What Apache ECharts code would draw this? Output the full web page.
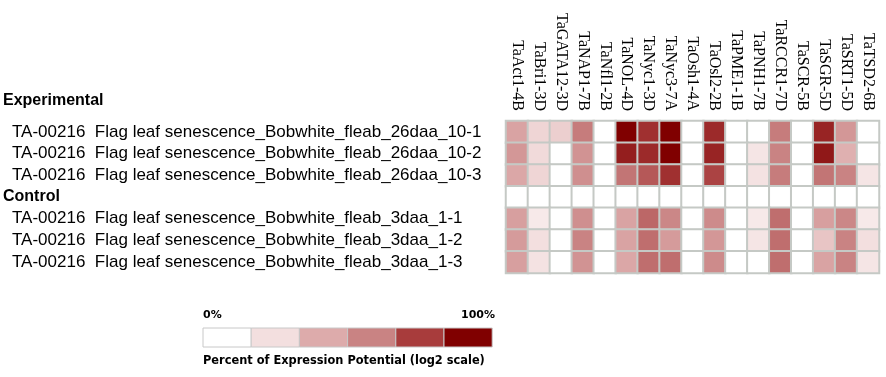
<!DOCTYPE html>
<html>
<head>
<meta charset="utf-8">
<script src="https://cdn.jsdelivr.net/npm/echarts@6/dist/echarts.min.js"></script>
<style>
  html, body { margin: 0; padding: 0; background: #fff; }
  #heat { width: 886px; height: 377px; }
</style>
</head>
<body>
<div id="heat"></div>
<script>
// gene expression heatmap, 0 = 0%, 5 = 100% (log2 scale)

var genes = ['TaAct1-4B', 'TaBri1-3D', 'TaGATA12-3D', 'TaNAP1-7B', 'TaNfl1-2B', 'TaNOL-4D', 'TaNyc1-3D',
  'TaNyc3-7A', 'TaOsh1-4A', 'TaOsl2-2B', 'TaPME1-1B', 'TaPNH1-7B', 'TaRCCR1-7D', 'TaSCR-5B',
  'TaSGR-5D', 'TaSRT1-5D', 'TaTSD2-6B']

var samples = [
  'TA-00216  Flag leaf senescence_Bobwhite_fleab_26daa_10-1',
  'TA-00216  Flag leaf senescence_Bobwhite_fleab_26daa_10-2',
  'TA-00216  Flag leaf senescence_Bobwhite_fleab_26daa_10-3',
  'Control',
  'TA-00216  Flag leaf senescence_Bobwhite_fleab_3daa_1-1',
  'TA-00216  Flag leaf senescence_Bobwhite_fleab_3daa_1-2',
  'TA-00216  Flag leaf senescence_Bobwhite_fleab_3daa_1-3'
]

var exp_10_1 = [2.2, 1.2, 1.3, 3.1, 0, 5.0, 4.2, 5.0, 0, 4.3, 0, 0, 3.1, 0, 4.4, 2.5, 0]
var exp_10_2 = [2.5, 1.1, 0, 2.6, 0, 4.5, 4.3, 5.0, 0, 4.4, 0, 0.8, 3.0, 0, 4.6, 1.9, 0]
var exp_10_3 = [2.1, 1.2, 0, 2.7, 0, 3.2, 3.6, 4.2, 0, 3.9, 0, 0.9, 3.1, 0, 3.2, 3.0, 0.8]
var control_hdr = [0, 0, 0, 0, 0, 0, 0, 0, 0, 0, 0, 0, 0, 0, 0, 0, 0]
var ctl_1_1 = [2.3, 0.7, 0, 2.7, 0, 2.2, 3.4, 2.9, 0, 2.8, 0, 0.7, 3.3, 0, 2.3, 2.9, 0.7]
var ctl_1_2 = [2.4, 1.0, 0, 3.0, 0, 2.2, 3.3, 2.4, 0, 2.5, 0, 0.8, 3.3, 0, 1.5, 3.0, 1.0]
var ctl_1_3 = [2.3, 0.9, 0, 2.6, 0, 2.1, 3.3, 3.3, 0, 2.8, 0, 0, 3.3, 0, 2.2, 3.0, 0.8]

var rows = [exp_10_1, exp_10_2, exp_10_3, control_hdr, ctl_1_1, ctl_1_2, ctl_1_3]
var palette = ['#ffffff', '#f3dfdf', '#ddabab', '#c98383', '#a83c3c', '#800000']

var heat_dt = []
for (var r = 0; r < rows.length; r++) {
  for (var c = 0; c < genes.length; c++) {
    heat_dt.push([c, r, rows[r][c]])
  }
}

// legend boxes under the chart
var legend_items = []
for (var k = 0; k < palette.length; k++) {
  legend_items.push({
    type: 'rect',
    shape: { x: 203 + k * 48.2, y: 328, width: 48.2, height: 19 },
    style: { fill: palette[k], stroke: '#c8c8c8', lineWidth: 1 }
  })
}

var heatchart = echarts.init(document.getElementById('heat'))

var option = {
  animation: false,
  grid: { left: 506, top: 121, width: 373, height: 152 },
  xAxis: {
    type: 'category',
    position: 'top',
    data: genes,
    axisLine: { show: false },
    axisTick: { show: false },
    splitLine: { show: false },
    axisLabel: {
      rotate: 90,
      margin: 10,
      color: '#000',
      fontFamily: 'Liberation Serif',
      fontSize: 16
    }
  },
  yAxis: {
    type: 'category',
    inverse: true,
    data: samples,
    axisLine: { show: false },
    axisTick: { show: false },
    axisLabel: {
      align: 'left',
      margin: 503,
      formatter: function (v) {
        if (v === 'Control') return '{b|' + v + '}'
        return '{a|' + v + '}'
      },
      rich: {
        a: { color: '#000', fontFamily: 'Liberation Sans', fontSize: 17, padding: [0, 0, 0, 9] },
        b: { color: '#000', fontFamily: 'Liberation Sans', fontSize: 16, fontWeight: 'bold' }
      }
    }
  },
  visualMap: {
    show: false,
    type: 'continuous',
    min: 0,
    max: 5,
    inRange: { color: palette }
  },
  graphic: [
    {
      type: 'text', left: 3, top: 93,
      style: { text: 'Experimental', fill: '#000', font: 'bold 16px "Liberation Sans"' }
    },
    {
      type: 'text', left: 203, top: 310,
      style: { text: '0%', fill: '#000', font: 'bold 11px "DejaVu Sans"' }
    },
    {
      type: 'text', right: 391, top: 310,
      style: { text: '100%', fill: '#000', font: 'bold 11px "DejaVu Sans"' }
    },
    {
      type: 'text', left: 203, top: 356,
      style: { text: 'Percent of Expression Potential (log2 scale)', fill: '#000', font: 'bold 11.4px "DejaVu Sans"' }
    }
  ].concat(legend_items),
  series: [
    {
      name: 'Expression',
      type: 'heatmap',
      data: heat_dt,
      itemStyle: { borderColor: '#c5c9c5', borderWidth: 2 },
      emphasis: { disabled: true }
    }
  ]
}

heatchart.setOption(option)
</script>
</body>
</html>
